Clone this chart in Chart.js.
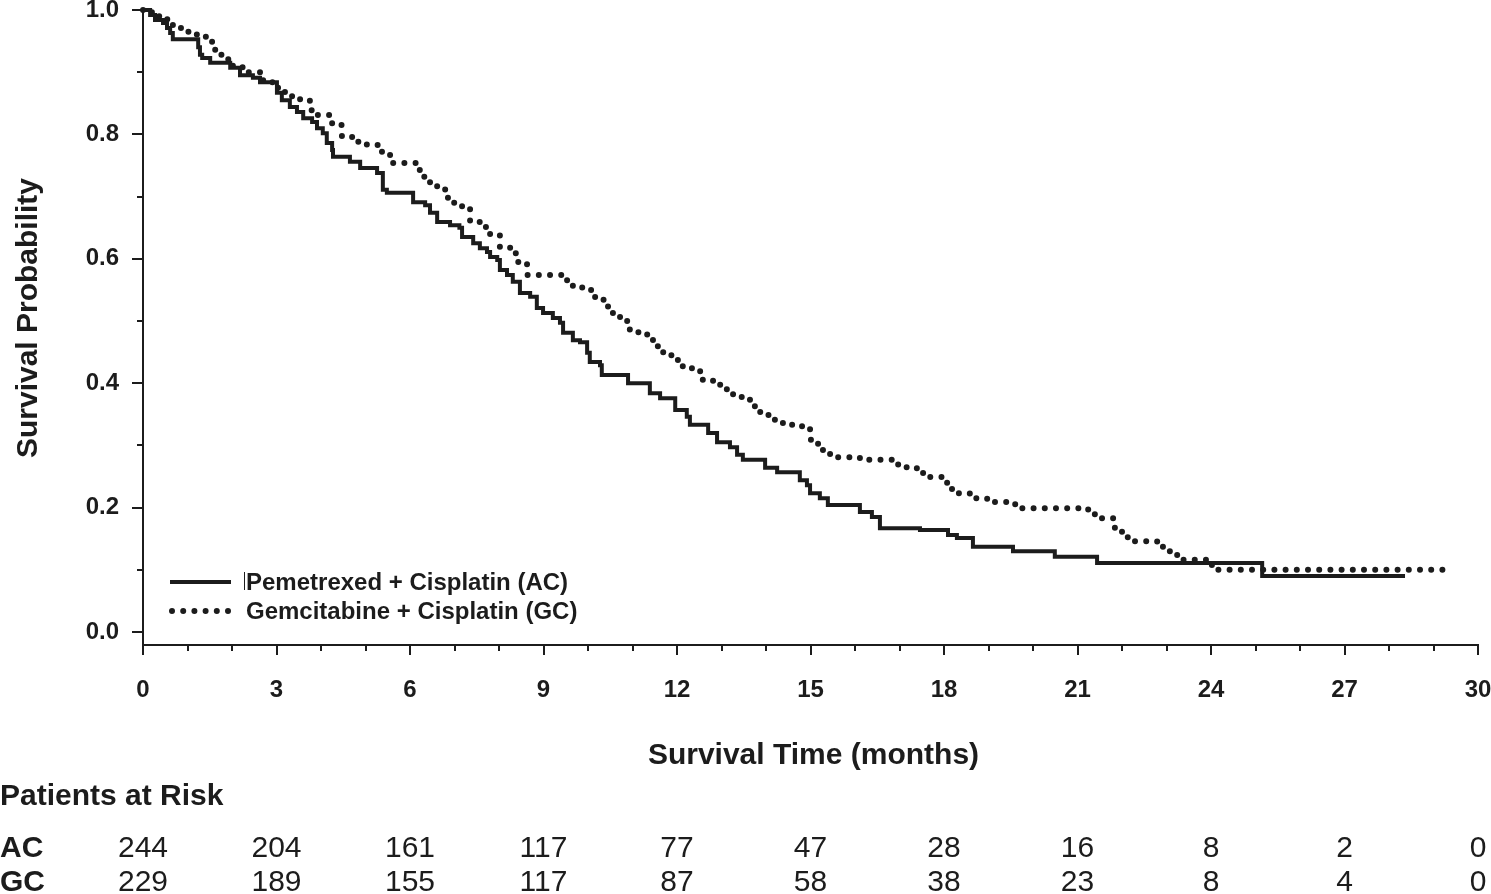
<!DOCTYPE html>
<html>
<head>
<meta charset="utf-8">
<script src="https://cdn.jsdelivr.net/npm/chart.js@4.4.1/dist/chart.umd.min.js"></script>
<style>
  html, body { margin: 0; padding: 0; background: #fff; }
  #wrap { width: 1491px; height: 894px; position: relative; }
</style>
</head>
<body>
<div id="wrap"><canvas id="kmChart" width="1491" height="894"></canvas></div>
<script>
// Kaplan-Meier steps: time (months) where the curve drops, survival after the drop
const acTime = [0, 0.16, 0.27, 0.45, 0.54, 0.61, 0.67, 1.24, 1.28, 1.33, 1.51, 1.96, 2.18, 2.47, 2.63,
  3.01, 3.12, 3.30, 3.46, 3.60, 3.80, 3.91, 4.04, 4.13, 4.25, 4.27, 4.65, 4.88, 5.26, 5.39, 5.48,
  6.07, 6.34, 6.45, 6.61, 6.90, 7.11, 7.17, 7.42, 7.57, 7.73, 7.80, 7.96, 8.02, 8.18, 8.31, 8.47, 8.70, 8.85, 8.99,
  9.21, 9.37, 9.44, 9.66, 9.82, 9.98, 10.04, 10.27, 10.31, 10.90, 11.39, 11.62, 11.96,
  12.22, 12.29, 12.70, 12.90, 13.19, 13.35, 13.48, 13.98, 14.25, 14.76, 14.92, 14.99,
  15.21, 15.39, 16.11, 16.38, 16.56, 17.46, 18.09, 18.29, 18.65, 19.55, 20.49, 21.44, 25.15, 28.36];
const acSurv = [1.0, 0.992, 0.984, 0.979, 0.971, 0.963, 0.953, 0.940, 0.928, 0.923, 0.915, 0.907, 0.895, 0.891, 0.884,
  0.867, 0.855, 0.844, 0.836, 0.826, 0.820, 0.810, 0.802, 0.786, 0.775, 0.764, 0.756, 0.746, 0.738, 0.711, 0.706,
  0.691, 0.686, 0.674, 0.659, 0.654, 0.650, 0.635, 0.625, 0.617, 0.611, 0.603, 0.598, 0.582, 0.574, 0.563, 0.545, 0.539, 0.521, 0.513,
  0.505, 0.497, 0.481, 0.469, 0.466, 0.449, 0.434, 0.429, 0.413, 0.400, 0.384, 0.376, 0.357,
  0.346, 0.333, 0.320, 0.305, 0.297, 0.285, 0.277, 0.264, 0.257, 0.244, 0.236, 0.223,
  0.215, 0.204, 0.193, 0.185, 0.167, 0.164, 0.156, 0.151, 0.137, 0.130, 0.121, 0.111, 0.090, 0.090];

const gcTime = [0, 0.2, 0.4, 0.6, 0.83, 1.01, 1.21, 1.39, 1.55, 1.57, 1.69, 1.89, 2.02, 2.36, 2.70, 2.97,
  3.19, 3.35, 3.53, 3.75, 3.93, 4.25, 4.47, 4.83, 5.03, 5.28, 5.51, 5.62, 6.22, 6.29, 6.45, 6.61,
  6.79, 6.97, 7.17, 7.35, 7.57, 7.80, 8.02, 8.25, 8.43, 8.63, 9.53, 9.66, 9.87, 10.16, 10.45, 10.56,
  10.72, 10.88, 10.94, 11.33, 11.46, 11.57, 11.69, 12.02, 12.13, 12.52, 12.58, 12.81, 12.97, 13.12, 13.26, 13.46,
  13.64, 13.75, 13.87, 14.09, 14.20, 14.38, 14.81, 14.99, 15.01, 15.17, 15.28, 15.44, 16.11, 16.83, 16.97, 17.39,
  17.53, 17.96, 18.07, 18.18, 18.58, 18.97, 19.60, 21.24, 21.39, 21.80, 21.84, 22.00, 22.13, 22.79, 22.92, 23.24,
  24.02, 29.30];
const gcSurv = [1.0, 0.99, 0.985, 0.976, 0.971, 0.965, 0.960, 0.957, 0.949, 0.936, 0.928, 0.921, 0.908, 0.900, 0.884, 0.875,
  0.868, 0.860, 0.855, 0.839, 0.831, 0.815, 0.796, 0.788, 0.783, 0.772, 0.767, 0.754, 0.740, 0.732, 0.722, 0.715,
  0.698, 0.690, 0.682, 0.659, 0.651, 0.638, 0.619, 0.609, 0.595, 0.574, 0.561, 0.555, 0.550, 0.534, 0.521, 0.510,
  0.505, 0.494, 0.482, 0.474, 0.466, 0.457, 0.445, 0.434, 0.424, 0.416, 0.405, 0.400, 0.394, 0.386, 0.378, 0.375,
  0.368, 0.360, 0.349, 0.346, 0.338, 0.333, 0.328, 0.322, 0.305, 0.297, 0.288, 0.281, 0.277, 0.272, 0.265, 0.257,
  0.249, 0.243, 0.233, 0.223, 0.215, 0.209, 0.199, 0.191, 0.183, 0.177, 0.162, 0.154, 0.146, 0.137, 0.130, 0.116,
  0.100, 0.100];

// axis ticks
const xLabelTicks = [0, 3, 6, 9, 12, 15, 18, 21, 24, 27, 30];
const yTickValues = [0.0, 0.1, 0.2, 0.3, 0.4, 0.5, 0.6, 0.7, 0.8, 0.9, 1.0];
const yLabelTicks = [0.0, 0.2, 0.4, 0.6, 0.8, 1.0];

// patients at risk table
const riskTimes = [0, 3, 6, 9, 12, 15, 18, 21, 24, 27, 30];
const acRisk = [244, 204, 161, 117, 77, 47, 28, 16, 8, 2, 0];
const gcRisk = [229, 189, 155, 117, 87, 58, 38, 23, 8, 4, 0];

const seriesNames = ["Pemetrexed + Cisplatin (AC)", "Gemcitabine + Cisplatin (GC)"];

const INK = "#1c1c1c";
const FONT = "'Liberation Sans', Arial, Helvetica, sans-serif";
const DOTS = [0, 11.2];

function toPoints(times, surv) {
  return times.map((t, i) => ({ x: t, y: surv[i] }));
}

const extras = {
  id: "kmExtras",
  afterDraw(chart) {
    const ctx = chart.ctx;
    const xs = chart.scales.x;
    const ys = chart.scales.y;
    const area = chart.chartArea;
    ctx.save();
    ctx.strokeStyle = INK;
    ctx.lineWidth = 2;
    // tick marks, majors longer than minors
    for (let v = 0; v <= 30; v++) {
      const px = Math.round(xs.getPixelForValue(v));
      const len = xLabelTicks.includes(v) ? 10 : 6;
      ctx.beginPath();
      ctx.moveTo(px, area.bottom);
      ctx.lineTo(px, area.bottom + len);
      ctx.stroke();
    }
    yTickValues.forEach(v => {
      const py = Math.round(ys.getPixelForValue(v));
      const len = yLabelTicks.includes(v) ? 11 : 6;
      ctx.beginPath();
      ctx.moveTo(area.left - len, py);
      ctx.lineTo(area.left, py);
      ctx.stroke();
    });

    ctx.fillStyle = INK;
    // axis titles
    ctx.font = "bold 30px " + FONT;
    ctx.textAlign = "center";
    ctx.textBaseline = "middle";
    ctx.fillText("Survival Time (months)", (area.left + area.right) / 2 + 3, 756);
    ctx.save();
    ctx.translate(29, 318);
    ctx.rotate(-Math.PI / 2);
    ctx.fillText("Survival Probability", 0, 0);
    ctx.restore();

    // legend
    ctx.lineWidth = 4;
    ctx.beginPath();
    ctx.moveTo(170, 582);
    ctx.lineTo(231, 582);
    ctx.stroke();
    ctx.save();
    ctx.lineWidth = 6;
    ctx.lineCap = "round";
    ctx.setLineDash(DOTS);
    ctx.beginPath();
    ctx.moveTo(172, 611);
    ctx.lineTo(231, 611);
    ctx.stroke();
    ctx.restore();
    ctx.lineWidth = 1;
    ctx.beginPath();
    ctx.moveTo(244.5, 572);
    ctx.lineTo(244.5, 590);
    ctx.stroke();
    ctx.font = "bold 24px " + FONT;
    ctx.textAlign = "left";
    ctx.fillText(seriesNames[0], 246, 583);
    ctx.fillText(seriesNames[1], 246, 612);

    // patients at risk
    ctx.font = "bold 30px " + FONT;
    ctx.fillText("Patients at Risk", 0, 797);
    ctx.fillText("AC", 0, 849);
    ctx.fillText("GC", 0, 883);
    ctx.font = "30px " + FONT;
    ctx.textAlign = "center";
    riskTimes.forEach((t, i) => {
      const px = xs.getPixelForValue(t);
      ctx.fillText(String(acRisk[i]), px, 849);
      ctx.fillText(String(gcRisk[i]), px, 883);
    });
    ctx.restore();
  }
};

new Chart(document.getElementById("kmChart"), {
  type: "line",
  data: {
    datasets: [
      {
        label: seriesNames[0],
        data: toPoints(acTime, acSurv),
        borderColor: INK,
        borderWidth: 4,
        stepped: "before",
        pointRadius: 0,
        fill: false,
        clip: 8
      },
      {
        label: seriesNames[1],
        data: toPoints(gcTime, gcSurv),
        borderColor: INK,
        borderWidth: 6,
        borderDash: DOTS,
        borderCapStyle: "round",
        stepped: "before",
        pointRadius: 0,
        fill: false,
        clip: 8
      }
    ]
  },
  options: {
    responsive: false,
    animation: false,
    events: [],
    layout: { padding: { left: 0, right: 13, top: 10, bottom: 0 } },
    plugins: { legend: { display: false }, tooltip: { enabled: false } },
    scales: {
      x: {
        type: "linear",
        min: 0,
        max: 30,
        grid: { display: false },
        border: { display: true, color: INK, width: 2 },
        ticks: {
          stepSize: 1,
          autoSkip: false,
          maxRotation: 0,
          padding: 23,
          color: INK,
          font: { family: FONT, size: 24, weight: "bold" },
          callback: v => (xLabelTicks.includes(v) ? String(v) : "")
        },
        afterFit(scale) {
          scale.height = 249;
          scale.paddingLeft = 0;
          scale.paddingRight = 0;
        }
      },
      y: {
        type: "linear",
        min: -0.0209,
        max: 1.0,
        grid: { display: false },
        border: { display: true, color: INK, width: 2 },
        afterBuildTicks(scale) {
          scale.ticks = yTickValues.map(v => ({ value: v }));
        },
        ticks: {
          padding: 16,
          color: INK,
          font: { family: FONT, size: 24, weight: "bold" },
          callback: v => (yLabelTicks.some(l => Math.abs(l - v) < 1e-6) ? v.toFixed(1) : "")
        },
        afterFit(scale) {
          scale.width = 143;
          scale.paddingTop = 0;
          scale.paddingBottom = 0;
        }
      }
    }
  },
  plugins: [extras]
});
</script>
</body>
</html>
